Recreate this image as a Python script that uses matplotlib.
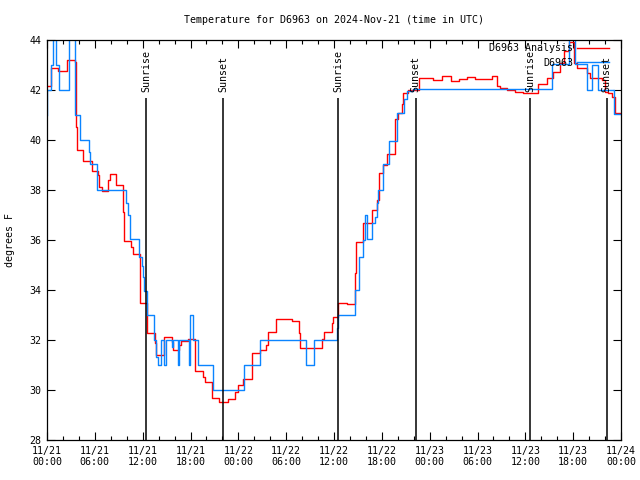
import datetime as dt
import matplotlib
matplotlib.use("Agg")
import matplotlib.pyplot as plt
import matplotlib.dates as mdates

# ---- data (hours since 2024-11-21 00:00 UTC) ----
analysis_hours = [0.0, 0.54, 1.42, 2.55, 3.51, 3.64, 3.73, 4.55, 5.61, 6.44, 6.56, 6.86,
                  7.61, 7.90, 8.62, 9.57, 9.70, 10.54, 10.75, 11.67, 12.58, 13.51, 13.67,
                  14.68, 15.64, 15.84, 16.60, 16.77, 17.72, 18.56, 19.61, 19.82, 20.66,
                  21.58, 22.74, 23.58, 24.00, 24.62, 25.68, 25.75, 26.72, 27.47, 27.76,
                  28.69, 28.73, 30.70, 31.65, 31.74, 34.53, 34.78, 35.71, 35.91, 36.54,
                  37.59, 38.64, 38.72, 39.68, 40.73, 40.80, 41.36, 41.68, 42.19, 42.69,
                  43.65, 44.07, 44.57, 44.69, 45.25, 46.70, 48.46, 49.51, 50.64, 51.72,
                  52.65, 53.69, 55.78, 56.49, 56.82, 57.66, 58.70, 59.75, 61.63, 62.68,
                  63.51, 64.35, 64.85, 65.52, 66.11, 66.52, 67.70, 68.11, 69.58, 70.00,
                  70.41, 70.84, 71.25, 72.0]
analysis_temps = [42.16, 42.87, 42.76, 43.19, 43.13, 40.53, 39.6, 39.16, 38.76, 38.6, 38.13, 37.96,
                  38.4, 38.63, 38.2, 37.13, 35.97, 35.7, 35.44, 33.47, 32.27, 31.87, 31.4,
                  32.13, 31.93, 31.6, 31.8, 31.97, 32.03, 30.77, 30.5, 30.33, 29.67,
                  29.53, 29.63, 29.93, 30.2, 30.44, 30.93, 31.47, 31.6, 31.79, 32.33,
                  32.53, 32.83, 32.77, 32.27, 31.69, 32.03, 32.33, 32.67, 32.91, 33.47,
                  33.43, 34.69, 35.93, 36.67, 37.03, 37.2, 37.6, 38.67, 39.0, 39.43,
                  40.83, 41.07, 41.44, 41.9, 42.0, 42.47, 42.4, 42.57, 42.36, 42.44,
                  42.53, 42.44, 42.57, 42.16, 42.07, 42.0, 41.93, 41.9, 42.23, 42.49,
                  42.73, 43.07, 43.56, 43.9, 43.07, 42.87, 42.67, 42.49, 42.4, 41.93,
                  41.87, 41.73, 41.07, 41.07]

obs_hours = [0.0, 0.04, 0.46, 0.75, 1.09, 1.51, 2.76, 3.47, 4.20, 5.21, 5.39, 6.23, 9.97,
             10.20, 10.35, 11.58, 11.88, 12.08, 12.17, 12.51, 13.37, 13.67, 13.96, 14.26,
             14.71, 14.89, 15.64, 15.84, 16.47, 16.60, 17.77, 17.98, 18.27, 18.98, 20.79,
             24.75, 26.78, 32.55, 33.53, 36.42, 36.54, 38.58, 39.14, 39.68, 39.89, 40.18,
             40.77, 41.15, 41.36, 41.48, 42.19, 42.94, 43.86, 44.82, 45.12, 45.87, 63.31,
             65.52, 66.23, 67.70, 68.33, 69.16, 71.16, 72.0]
obs_temps = [41.0, 42.0, 43.0, 44.5, 43.0, 42.0, 44.5, 41.0, 40.0, 39.53, 39.03, 38.0, 37.47,
             37.0, 36.03, 35.33, 34.96, 34.53, 33.96, 33.0, 32.0, 31.33, 31.0, 32.0,
             31.0, 32.0, 31.73, 32.0, 31.0, 32.0, 31.0, 33.0, 32.0, 31.0, 30.0,
             31.0, 32.0, 31.0, 32.0, 32.47, 33.0, 34.0, 35.33, 36.0, 37.0, 36.03,
             36.67, 36.93, 37.47, 38.0, 39.03, 39.97, 41.07, 41.63, 41.97, 42.04, 43.03,
             44.5, 43.03, 42.0, 43.0, 42.0, 41.04, 41.04]

sun_hours = [12.46, 22.12, 36.54, 46.25, 60.59, 70.21]
sun_labels = ["Sunrise", "Sunset", "Sunrise", "Sunset", "Sunrise", "Sunset"]

y_ticks = [28, 30, 32, 34, 36, 38, 40, 42, 44]

base = dt.datetime(2024, 11, 21, 0, 0)
to_t = lambda hs: [base + dt.timedelta(hours=h) for h in hs]

FONT = "DejaVu Sans Mono"
FS = 7.2
plt.rcParams['font.family'] = FONT
plt.rcParams['font.size'] = FS

fig = plt.figure(figsize=(6.4, 4.8), dpi=100)
ax = fig.add_axes([47/640, 1-440/480, 574/640, 400/480])

ax.plot(to_t(analysis_hours), analysis_temps, drawstyle='steps-post', color='#ff0000', lw=1.0)
ax.plot(to_t(obs_hours), obs_temps, drawstyle='steps-post', color='#0a84ff', lw=1.0)

for h, lab in zip(sun_hours, sun_labels):
    t = base + dt.timedelta(hours=h)
    ax.vlines(t, 28, 41.67, color='black', lw=1.1)
    ax.text(t, 41.92, lab, rotation=90, ha='center', va='bottom', fontsize=FS, family=FONT)

ax.set_xlim(base, base + dt.timedelta(hours=72))
ax.set_ylim(28, 44)
ax.set_yticks(y_ticks)
ax.xaxis.set_major_locator(mdates.HourLocator(byhour=[0, 6, 12, 18]))
ax.xaxis.set_minor_locator(mdates.HourLocator(interval=2))
ax.xaxis.set_major_formatter(mdates.DateFormatter('%m/%d\n%H:%M'))
ax.tick_params(axis='both', which='major', direction='in', length=6, width=0.8,
               top=True, right=True, labelsize=FS, pad=4)
ax.tick_params(axis='x', which='minor', direction='in', length=3, width=0.8, top=True)
for s in ax.spines.values():
    s.set_linewidth(0.9)

# legend (gnuplot style: right-aligned text, sample to the right)
ax.text(0.9164, 0.980, "D6963 Analysis", transform=ax.transAxes, ha='right', va='center', fontsize=FS)
ax.text(0.9164, 0.9425, "D6963", transform=ax.transAxes, ha='right', va='center', fontsize=FS)
ax.plot([0.9233, 0.979], [0.980, 0.980], transform=ax.transAxes, color='#ff0000', lw=1.0, clip_on=False)
ax.plot([0.9233, 0.979], [0.945, 0.945], transform=ax.transAxes, color='#0a84ff', lw=1.0, clip_on=False)

fig.text(334/640, 1-20/480, "Temperature for D6963 on 2024-Nov-21 (time in UTC)",
         ha='center', va='center', fontsize=FS)
fig.text(10/640, 0.5, "degrees F", rotation=90, ha='center', va='center', fontsize=FS)

fig.savefig("out.png", dpi=100)
